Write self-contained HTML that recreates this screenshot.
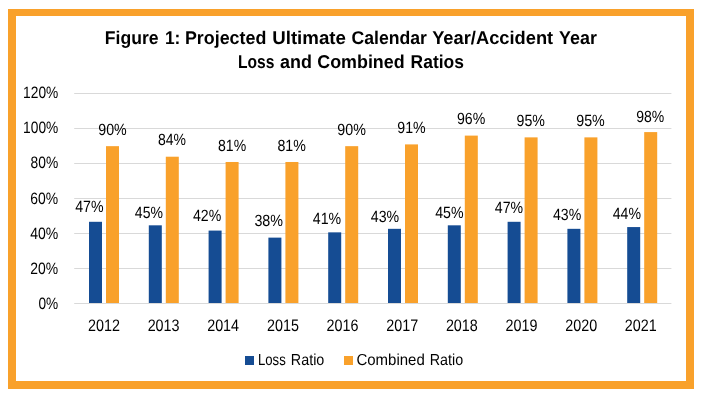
<!DOCTYPE html>
<html><head><meta charset="utf-8"><title>Figure 1: Projected Ultimate Calendar Year/Accident Year Loss and Combined Ratios</title>
<style>
html,body{margin:0;padding:0;background:#fff;}
body{width:703px;height:394px;overflow:hidden;position:relative;font-family:"Liberation Sans", sans-serif;}
.frame{position:absolute;box-sizing:border-box;left:8px;top:9px;width:686px;height:380px;border-style:solid;border-color:#f9a12b;border-width:7px 8px 8px 8px;}
svg{position:absolute;left:0;top:0;will-change:transform;}
svg text{font-family:"Liberation Sans", sans-serif;fill:#000000;text-rendering:geometricPrecision;}
</style></head>
<body>
<div class="frame"></div>
<svg width="703" height="394" viewBox="0 0 703 394">
<rect x="74.2" y="93.00" width="597.20" height="1" fill="#d9d9d9"/>
<rect x="74.2" y="128.00" width="597.20" height="1" fill="#d9d9d9"/>
<rect x="74.2" y="163.00" width="597.20" height="1" fill="#d9d9d9"/>
<rect x="74.2" y="198.00" width="597.20" height="1" fill="#d9d9d9"/>
<rect x="74.2" y="233.00" width="597.20" height="1" fill="#d9d9d9"/>
<rect x="74.2" y="268.00" width="597.20" height="1" fill="#d9d9d9"/>
<rect x="74.2" y="303.00" width="597.20" height="1" fill="#d9d9d9"/>
<rect x="89.00" y="221.80" width="13" height="81.20" fill="#154c93"/>
<rect x="106.00" y="146.16" width="13" height="156.84" fill="#f9a12b"/>
<rect x="148.80" y="225.32" width="13" height="77.68" fill="#154c93"/>
<rect x="165.80" y="156.71" width="13" height="146.29" fill="#f9a12b"/>
<rect x="208.60" y="230.59" width="13" height="72.41" fill="#154c93"/>
<rect x="225.60" y="161.99" width="13" height="141.01" fill="#f9a12b"/>
<rect x="268.40" y="237.63" width="13" height="65.37" fill="#154c93"/>
<rect x="285.40" y="161.99" width="13" height="141.01" fill="#f9a12b"/>
<rect x="328.20" y="232.35" width="13" height="70.65" fill="#154c93"/>
<rect x="345.20" y="146.16" width="13" height="156.84" fill="#f9a12b"/>
<rect x="388.00" y="228.83" width="13" height="74.17" fill="#154c93"/>
<rect x="405.00" y="144.40" width="13" height="158.60" fill="#f9a12b"/>
<rect x="447.80" y="225.32" width="13" height="77.68" fill="#154c93"/>
<rect x="464.80" y="135.61" width="13" height="167.39" fill="#f9a12b"/>
<rect x="507.60" y="221.80" width="13" height="81.20" fill="#154c93"/>
<rect x="524.60" y="137.37" width="13" height="165.63" fill="#f9a12b"/>
<rect x="567.40" y="228.83" width="13" height="74.17" fill="#154c93"/>
<rect x="584.40" y="137.37" width="13" height="165.63" fill="#f9a12b"/>
<rect x="627.20" y="227.07" width="13" height="75.93" fill="#154c93"/>
<rect x="644.20" y="132.09" width="13" height="170.91" fill="#f9a12b"/>
<rect x="245" y="356" width="9" height="9" fill="#154c93"/>
<rect x="344" y="356" width="9" height="9" fill="#f9a12b"/>
<text transform="matrix(1.0340 0 0 1.0809 104.81 43.80)" font-size="17" font-weight="bold">Figure</text>
<text transform="matrix(1.0240 0 0 1.0809 164.88 43.80)" font-size="17" font-weight="bold">1:</text>
<text transform="matrix(1.0507 0 0 1.0809 184.89 43.80)" font-size="17" font-weight="bold">Projected</text>
<text transform="matrix(1.0992 0 0 1.0809 272.20 43.80)" font-size="17" font-weight="bold">Ultimate</text>
<text transform="matrix(1.0369 0 0 1.0809 351.52 43.80)" font-size="17" font-weight="bold">Calendar</text>
<text transform="matrix(1.0765 0 0 1.0809 432.16 43.80)" font-size="17" font-weight="bold">Year/Accident</text>
<text transform="matrix(1.0525 0 0 1.0809 559.07 43.80)" font-size="17" font-weight="bold">Year</text>
<text transform="matrix(0.9166 0 0 1.0894 238.05 67.80)" font-size="17" font-weight="bold">Loss</text>
<text transform="matrix(1.0561 0 0 1.0894 280.07 67.80)" font-size="17" font-weight="bold">and</text>
<text transform="matrix(1.0523 0 0 1.0894 317.21 67.80)" font-size="17" font-weight="bold">Combined</text>
<text transform="matrix(1.0260 0 0 1.0894 410.62 67.80)" font-size="17" font-weight="bold">Ratios</text>
<text transform="matrix(0.9405 0 0 1.1368 257.92 364.90)" font-size="14">Loss</text>
<text transform="matrix(1.0244 0 0 1.1368 290.82 364.90)" font-size="14">Ratio</text>
<text transform="matrix(1.0710 0 0 1.1368 356.40 364.90)" font-size="14">Combined</text>
<text transform="matrix(1.0211 0 0 1.1368 429.72 364.90)" font-size="14">Ratio</text>
<text transform="matrix(1.0128 0 0 1.1579 75.15 212.40)" font-size="14">47%</text>
<text transform="matrix(1.0168 0 0 1.1579 98.24 134.80)" font-size="14">90%</text>
<text transform="matrix(1.0018 0 0 1.1579 134.85 217.50)" font-size="14">45%</text>
<text transform="matrix(1.0000 0 0 1.1579 157.90 145.20)" font-size="14">84%</text>
<text transform="matrix(1.0092 0 0 1.1579 192.95 220.60)" font-size="14">42%</text>
<text transform="matrix(1.0037 0 0 1.1579 218.00 151.10)" font-size="14">81%</text>
<text transform="matrix(1.0222 0 0 1.1579 254.39 226.20)" font-size="14">38%</text>
<text transform="matrix(1.0148 0 0 1.1579 277.39 151.10)" font-size="14">81%</text>
<text transform="matrix(1.0128 0 0 1.1579 312.75 224.40)" font-size="14">41%</text>
<text transform="matrix(1.0206 0 0 1.1579 337.33 135.20)" font-size="14">90%</text>
<text transform="matrix(1.0128 0 0 1.1579 370.85 221.90)" font-size="14">43%</text>
<text transform="matrix(1.0131 0 0 1.1579 397.24 133.20)" font-size="14">91%</text>
<text transform="matrix(1.0128 0 0 1.1579 435.15 217.50)" font-size="14">45%</text>
<text transform="matrix(1.0093 0 0 1.1579 456.94 124.30)" font-size="14">96%</text>
<text transform="matrix(1.0092 0 0 1.1579 494.85 213.40)" font-size="14">47%</text>
<text transform="matrix(1.0131 0 0 1.1579 516.54 126.40)" font-size="14">95%</text>
<text transform="matrix(1.0092 0 0 1.1579 552.95 220.10)" font-size="14">43%</text>
<text transform="matrix(1.0206 0 0 1.1579 576.23 126.40)" font-size="14">95%</text>
<text transform="matrix(1.0092 0 0 1.1579 612.75 218.60)" font-size="14">44%</text>
<text transform="matrix(1.0019 0 0 1.1579 636.25 121.70)" font-size="14">98%</text>
<text transform="matrix(0.9810 0 0 1.1789 23.12 97.90)" font-size="14">120%</text>
<text transform="matrix(0.9810 0 0 1.1789 23.12 132.90)" font-size="14">100%</text>
<text transform="matrix(0.9852 0 0 1.1789 30.61 167.80)" font-size="14">80%</text>
<text transform="matrix(0.9944 0 0 1.1789 30.35 204.10)" font-size="14">60%</text>
<text transform="matrix(1.0018 0 0 1.1789 30.15 239.10)" font-size="14">40%</text>
<text transform="matrix(0.9944 0 0 1.1789 30.35 274.10)" font-size="14">20%</text>
<text transform="matrix(0.9766 0 0 1.1789 38.41 309.10)" font-size="14">0%</text>
<text transform="matrix(1.0252 0 0 1.1895 87.98 331.10)" font-size="14">2012</text>
<text transform="matrix(1.0252 0 0 1.1895 147.63 331.10)" font-size="14">2013</text>
<text transform="matrix(1.0252 0 0 1.1895 207.15 331.10)" font-size="14">2014</text>
<text transform="matrix(1.0252 0 0 1.1895 266.93 331.10)" font-size="14">2015</text>
<text transform="matrix(1.0252 0 0 1.1895 326.58 331.10)" font-size="14">2016</text>
<text transform="matrix(1.0252 0 0 1.1895 386.23 331.10)" font-size="14">2017</text>
<text transform="matrix(1.0252 0 0 1.1895 445.88 331.10)" font-size="14">2018</text>
<text transform="matrix(1.0252 0 0 1.1895 505.53 331.10)" font-size="14">2019</text>
<text transform="matrix(1.0252 0 0 1.1895 565.18 331.10)" font-size="14">2020</text>
<text transform="matrix(1.0252 0 0 1.1895 624.83 331.10)" font-size="14">2021</text>
</svg>
</body></html>
